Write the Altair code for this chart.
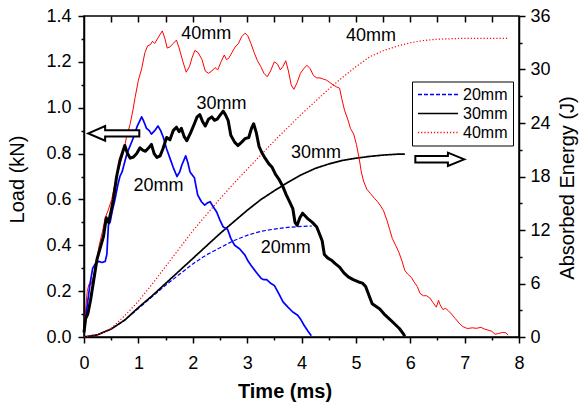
import altair as alt
import pandas as pd

FONT = "Liberation Sans"

# ---------------- Load (kN) vs Time (ms) ----------------
t20 = [0.00, 0.05, 0.11, 0.16, 0.21, 0.27, 0.33, 0.39, 0.42, 0.45, 0.48, 0.52, 0.57, 0.62, 0.66,
       0.70, 0.79, 0.91, 0.98, 1.06, 1.10, 1.15, 1.20, 1.24, 1.30, 1.36, 1.41, 1.46, 1.52, 1.58,
       1.64, 1.71, 1.76, 1.80, 1.87, 1.91, 1.95, 2.03, 2.09, 2.16, 2.22, 2.27, 2.32, 2.37, 2.44,
       2.50, 2.56, 2.64, 2.70, 2.77, 2.86, 2.96, 3.02, 3.08, 3.16, 3.26, 3.31, 3.36, 3.44, 3.50,
       3.58, 3.66, 3.75, 3.84, 3.93, 3.99, 4.05, 4.12, 4.18]
load20 = [0.03, 0.12, 0.23, 0.30, 0.32, 0.33, 0.325, 0.33, 0.36, 0.49, 0.50, 0.55, 0.60, 0.66, 0.70,
          0.72, 0.80, 0.87, 0.92, 0.96, 0.94, 0.91, 0.90, 0.885, 0.90, 0.92, 0.90, 0.87, 0.82, 0.78,
          0.74, 0.70, 0.72, 0.75, 0.79, 0.76, 0.72, 0.695, 0.62, 0.59, 0.575, 0.585, 0.59, 0.57, 0.545,
          0.51, 0.48, 0.47, 0.43, 0.40, 0.385, 0.357, 0.33, 0.31, 0.285, 0.255, 0.25, 0.25, 0.233, 0.225,
          0.19, 0.153, 0.13, 0.109, 0.095, 0.075, 0.05, 0.025, 0.005]

t30 = [0.00, 0.03, 0.07, 0.12, 0.18, 0.24, 0.30, 0.36, 0.41, 0.45, 0.50, 0.54, 0.60, 0.66, 0.75,
       0.80, 0.85, 0.91, 0.97, 1.03, 1.08, 1.13, 1.19, 1.24, 1.29, 1.34, 1.40, 1.45, 1.52, 1.58,
       1.64, 1.70, 1.75, 1.79, 1.84, 1.89, 1.96, 2.03, 2.08, 2.13, 2.18, 2.23, 2.29, 2.35, 2.40,
       2.45, 2.51, 2.56, 2.60, 2.65, 2.70, 2.77, 2.83, 2.90, 2.96, 3.03, 3.08, 3.12, 3.17, 3.22,
       3.28, 3.33, 3.40, 3.46, 3.52, 3.58, 3.65, 3.72, 3.78, 3.84, 3.88, 3.92, 3.97, 4.02, 4.06,
       4.12, 4.20, 4.28, 4.33, 4.38, 4.42, 4.48, 4.55, 4.62, 4.70, 4.78, 4.86, 4.95, 5.05, 5.12,
       5.18, 5.24, 5.30, 5.36, 5.44, 5.52, 5.61, 5.70, 5.80, 5.87, 5.90]
load30 = [0.02, 0.08, 0.10, 0.16, 0.25, 0.34, 0.39, 0.44, 0.52, 0.50, 0.55, 0.60, 0.70, 0.77, 0.835,
          0.80, 0.78, 0.785, 0.80, 0.825, 0.815, 0.81, 0.825, 0.84, 0.80, 0.783, 0.79, 0.82, 0.87, 0.86,
          0.90, 0.915, 0.895, 0.91, 0.875, 0.856, 0.89, 0.93, 0.96, 0.97, 0.94, 0.92, 0.95, 0.96, 0.945,
          0.95, 0.97, 0.985, 0.97, 0.945, 0.88, 0.85, 0.835, 0.85, 0.865, 0.87, 0.91, 0.93, 0.89, 0.83,
          0.80, 0.78, 0.755, 0.74, 0.71, 0.69, 0.66, 0.62, 0.59, 0.56, 0.50, 0.487, 0.52, 0.54, 0.53,
          0.515, 0.50, 0.48, 0.45, 0.42, 0.36, 0.345, 0.335, 0.32, 0.305, 0.28, 0.262, 0.25, 0.24, 0.235,
          0.22, 0.182, 0.145, 0.135, 0.122, 0.10, 0.08, 0.06, 0.037, 0.015, 0.003]

t40 = [0.00, 0.03, 0.06, 0.09, 0.13, 0.17, 0.22, 0.28, 0.34, 0.39, 0.44, 0.51, 0.56, 0.61, 0.66,
       0.72, 0.78, 0.85, 0.90, 0.94, 1.00, 1.06, 1.12, 1.17, 1.22, 1.26, 1.30, 1.35, 1.40, 1.44,
       1.49, 1.53, 1.58, 1.64, 1.70, 1.75, 1.82, 1.88, 1.94, 1.99, 2.04, 2.10, 2.17, 2.23, 2.29,
       2.35, 2.41, 2.46, 2.52, 2.58, 2.62, 2.66, 2.72, 2.78, 2.84, 2.90, 2.96, 3.01, 3.07, 3.13,
       3.19, 3.25, 3.31, 3.37, 3.43, 3.50, 3.56, 3.61, 3.66, 3.71, 3.76, 3.81, 3.86, 3.92, 3.98,
       4.04, 4.10, 4.16, 4.22, 4.28, 4.34, 4.40, 4.46, 4.52, 4.58, 4.65, 4.70, 4.74, 4.79, 4.85,
       4.90, 4.96, 5.01, 5.06, 5.10, 5.14, 5.20, 5.27, 5.34, 5.40, 5.46, 5.51, 5.57, 5.62, 5.67,
       5.73, 5.79, 5.85, 5.90, 5.95, 6.02, 6.07, 6.13, 6.18, 6.24, 6.30, 6.36, 6.42, 6.48, 6.52,
       6.55, 6.60, 6.65, 6.70, 6.76, 6.83, 6.90, 6.97, 7.05, 7.14, 7.22, 7.30, 7.36, 7.43, 7.50,
       7.56, 7.62, 7.70, 7.76, 7.80]
load40 = [0.03, 0.12, 0.20, 0.23, 0.23, 0.26, 0.32, 0.40, 0.46, 0.52, 0.55, 0.60, 0.66, 0.71, 0.75,
          0.80, 0.87, 0.93, 0.99, 1.045, 1.12, 1.17, 1.24, 1.27, 1.275, 1.29, 1.28, 1.30, 1.32, 1.335,
          1.30, 1.26, 1.265, 1.28, 1.295, 1.26, 1.20, 1.155, 1.18, 1.22, 1.25, 1.24, 1.21, 1.16, 1.15,
          1.16, 1.175, 1.165, 1.20, 1.23, 1.21, 1.215, 1.24, 1.265, 1.28, 1.31, 1.325, 1.315, 1.28, 1.24,
          1.205, 1.18, 1.15, 1.135, 1.16, 1.20, 1.19, 1.165, 1.18, 1.205, 1.16, 1.10, 1.08, 1.11, 1.15,
          1.17, 1.185, 1.17, 1.14, 1.13, 1.13, 1.125, 1.12, 1.11, 1.10, 1.09, 1.085, 1.04, 0.99, 0.95,
          0.91, 0.885, 0.84, 0.78, 0.72, 0.68, 0.645, 0.625, 0.605, 0.59, 0.57, 0.55, 0.51, 0.47, 0.43,
          0.40, 0.37, 0.33, 0.29, 0.275, 0.26, 0.24, 0.22, 0.19, 0.18, 0.18, 0.17, 0.15, 0.13, 0.16,
          0.14, 0.12, 0.125, 0.115, 0.10, 0.08, 0.06, 0.045, 0.037, 0.04, 0.038, 0.042, 0.035, 0.03, 0.025,
          0.012, 0.015, 0.02, 0.018, 0.008]

# ---------------- Absorbed energy (J) vs Time (ms) ----------------
te20 = [0, 0.25, 0.5, 0.75, 1.0, 1.25, 1.5, 1.75, 2.0, 2.25, 2.5, 2.75, 3.0, 3.25, 3.5, 3.75, 4.0, 4.19]
energy20 = [0, 0.25, 0.9, 1.9, 3.2, 4.5, 5.8, 7.0, 8.2, 9.2, 10.0, 10.8, 11.4, 11.85, 12.1, 12.3, 12.4, 12.45]

te30 = [0, 0.25, 0.5, 0.75, 1.0, 1.25, 1.5, 1.75, 2.0, 2.25, 2.5, 2.75, 3.0, 3.25, 3.5, 3.75, 4.0,
        4.25, 4.5, 4.75, 5.0, 5.25, 5.5, 5.75, 5.9]
energy30 = [0, 0.25, 0.9, 1.9, 3.3, 4.6, 6.0, 7.4, 8.8, 10.2, 11.6, 12.9, 14.2, 15.4, 16.4, 17.35, 18.2,
            18.9, 19.4, 19.8, 20.05, 20.25, 20.4, 20.5, 20.5]

te40 = [0, 0.25, 0.5, 0.75, 1.0, 1.25, 1.5, 1.75, 2.0, 2.25, 2.5, 2.75, 3.0, 3.25, 3.5, 3.75, 4.0,
        4.25, 4.5, 4.75, 5.0, 5.25, 5.5, 5.75, 6.0, 6.25, 6.5, 6.75, 7.0, 7.25, 7.5, 7.8]
energy40 = [0, 0.25, 0.95, 2.4, 4.0, 5.9, 7.9, 9.9, 11.9, 13.7, 15.5, 17.2, 18.8, 20.4, 22.0, 23.5, 25.0,
            26.4, 27.8, 29.1, 30.3, 31.4, 32.1, 32.6, 33.0, 33.25, 33.4, 33.45, 33.5, 33.5, 33.5, 33.5]

series = ["20mm", "30mm", "40mm"]
series_colors = ["#0000ff", "#000000", "#ff0000"]
series_dash = [[4, 2], [1, 0], [1.2, 2]]

# ---------------- Tick values ----------------
x_major = [0, 1, 2, 3, 4, 5, 6, 7, 8]
x_minor = [0.5, 1.5, 2.5, 3.5, 4.5, 5.5, 6.5, 7.5]
x_top = [0.5, 1, 1.5, 2, 2.5, 3, 3.5, 4, 4.5, 5, 5.5, 6, 6.5, 7, 7.5]
load_major = [0.0, 0.2, 0.4, 0.6, 0.8, 1.0, 1.2, 1.4]
load_minor = [0.1, 0.3, 0.5, 0.7, 0.9, 1.1, 1.3]
energy_major = [0, 6, 12, 18, 24, 30, 36]
energy_minor = [3, 9, 15, 21, 27, 33]

# ---------------- Annotations ----------------
ann_label = ["40mm", "40mm", "30mm", "30mm", "20mm", "20mm"]
ann_t = [2.248, 5.278, 2.529, 4.267, 1.371, 3.710]
ann_load = [1.322, 1.313, 1.016, 0.802, 0.657, 0.386]

arrow_left_t = [0.548]
arrow_left_load = [0.888]
arrow_right_t = [6.544]
arrow_right_load = [0.775]

# ---------------- Tables ----------------
df20 = pd.DataFrame({"t": t20, "load": load20})
df30 = pd.DataFrame({"t": t30, "load": load30})
df40 = pd.DataFrame({"t": t40, "load": load40})
df_load = pd.concat([df20, df30, df40], ignore_index=True)
df_e = pd.concat([
    pd.DataFrame({"t": te20, "energy": energy20, "series": "20mm"}),
    pd.DataFrame({"t": te30, "energy": energy30, "series": "30mm"}),
    pd.DataFrame({"t": te40, "energy": energy40, "series": "40mm"}),
], ignore_index=True)
df_ann = pd.DataFrame({"t": ann_t, "load": ann_load, "label": ann_label})
df_al = pd.DataFrame({"t": arrow_left_t, "load": arrow_left_load})
df_ar = pd.DataFrame({"t": arrow_right_t, "load": arrow_right_load})

X = alt.Scale(domain=[0, 8], nice=False, zero=False)
YL = alt.Scale(domain=[0, 1.4], nice=False, zero=False)
YE = alt.Scale(domain=[0, 36], nice=False, zero=False)

common = dict(grid=False, domainColor="black", domainWidth=1.5, tickColor="black", tickWidth=1.5,
              labelColor="black", labelFont=FONT, labelFontSize=18, titleFont=FONT,
              titleColor="black", titleFontSize=20, labelOverlap=False, labelFlush=False)
minor_common = dict(grid=False, domain=False, labels=False, title=None, tickColor="black", tickWidth=1.5)

axes_main = alt.Chart(df_load).mark_line(opacity=0).encode(
    x=alt.X("t:Q", scale=X, axis=alt.Axis(
        orient="bottom", values=x_major, tickSize=6, labelPadding=11, format="d",
        title="Time (ms)", titleFontWeight="bold", titleX=200.5, titleY=60,
        titleAlign="center", titleBaseline="alphabetic", **common)),
    y=alt.Y("load:Q", scale=YL, axis=alt.Axis(
        orient="left", values=load_major, tickSize=6, labelPadding=7, format=".1f",
        title="Load (kN)", titleFontWeight="normal", titleAngle=270, titleX=-66.5, titleY=163,
        titleAlign="center", titleBaseline="middle", **common)),
)

minor_load = alt.Chart(df_load).mark_line(opacity=0).encode(
    x=alt.X("t:Q", scale=X, axis=alt.Axis(orient="bottom", values=x_minor, tickSize=3, **minor_common)),
    y=alt.Y("load:Q", scale=YL, axis=alt.Axis(orient="left", values=load_minor, tickSize=3, **minor_common)),
)

top_right = alt.Chart(df_e).mark_line(opacity=0).encode(
    x=alt.X("t:Q", scale=X, axis=alt.Axis(orient="bottom", offset=-321, values=x_top, tickSize=6, **minor_common)),
    y=alt.Y("energy:Q", scale=YE, axis=alt.Axis(orient="right", values=energy_minor, tickSize=3, **minor_common)),
)

leg = alt.Legend(title=None, orient="none", legendX=328, legendY=65.5, symbolType="stroke",
                 symbolSize=1600, clipHeight=16, rowPadding=3, padding=5, labelFont=FONT,
                 labelFontSize=16, labelColor="black", labelOffset=4, fillColor="white",
                 strokeColor="black", symbolStrokeWidth=1.3)

energy = alt.Chart(df_e).mark_line(strokeCap="butt").encode(
    x=alt.X("t:Q", scale=X, axis=None),
    y=alt.Y("energy:Q", scale=YE, axis=alt.Axis(
        orient="right", values=energy_major, tickSize=6, labelPadding=5, format="d",
        title="Absorbed Energy (J)", titleFontWeight="normal", titleAngle=270, titleX=48,
        titleY=171.5, titleAlign="center", titleBaseline="middle", **common)),
    color=alt.Color("series:N", scale=alt.Scale(domain=series, range=series_colors), legend=leg),
    strokeDash=alt.StrokeDash("series:N", scale=alt.Scale(domain=series, range=series_dash), legend=leg),
    strokeWidth=alt.condition("datum.series == '30mm'", alt.value(1.7), alt.value(1.2)),
)


def load_line(df, color, width):
    return alt.Chart(df).mark_line(color=color, strokeWidth=width, strokeJoin="round").encode(
        x=alt.X("t:Q", scale=X, axis=None),
        y=alt.Y("load:Q", scale=YL, axis=None),
    )


red = load_line(df40, "#ff0000", 1.0)
blue = load_line(df20, "#0000ff", 1.7)
black = load_line(df30, "#000000", 3.0)

ann = alt.Chart(df_ann).mark_text(font=FONT, fontSize=18, color="black", align="center",
                                   baseline="middle").encode(
    x=alt.X("t:Q", scale=X, axis=None),
    y=alt.Y("load:Q", scale=YL, axis=None),
    text="label:N",
)

left_path = "M-1,0L-0.34,-0.29L-0.34,-0.12L1,-0.12L1,0.12L-0.34,0.12L-0.34,0.29Z"
right_path = "M1,0L0.33,-0.27L0.33,-0.13L-1,-0.13L-1,0.13L0.33,0.13L0.33,0.27Z"

arrow_l = alt.Chart(df_al).mark_point(shape=left_path, size=2601, filled=True, fill="white",
                                      stroke="black", strokeWidth=2, opacity=1).encode(
    x=alt.X("t:Q", scale=X, axis=None), y=alt.Y("load:Q", scale=YL, axis=None))
arrow_r = alt.Chart(df_ar).mark_point(shape=right_path, size=2401, filled=True, fill="white",
                                      stroke="black", strokeWidth=2, opacity=1).encode(
    x=alt.X("t:Q", scale=X, axis=None), y=alt.Y("load:Q", scale=YL, axis=None))

chart = alt.layer(
    axes_main, minor_load, top_right, energy, red, blue, black, ann, arrow_l, arrow_r
).resolve_scale(y="independent").resolve_axis(x="independent", y="independent").properties(
    width=435, height=321,
    autosize=alt.AutoSizeParams(type="none"),
    padding={"left": 84, "top": 16, "right": 61, "bottom": 69},
).configure(font=FONT, background="white").configure_view(stroke="black", strokeWidth=1.5)

chart.save("out.html", embed_options={"renderer": "svg", "actions": False})
